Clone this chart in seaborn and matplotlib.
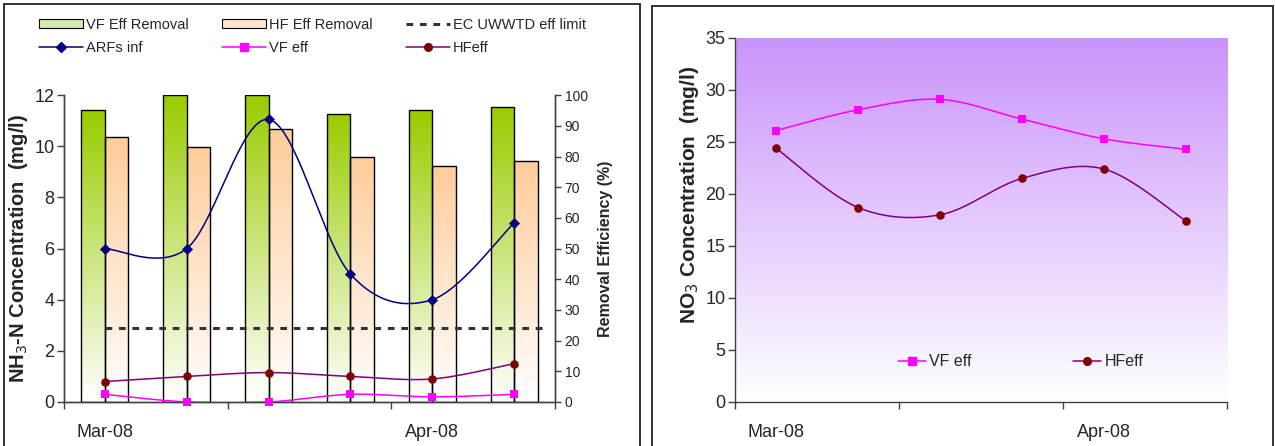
import numpy as np
import pandas as pd
import seaborn as sns
import matplotlib.pyplot as plt
from matplotlib.colors import LinearSegmentedColormap
from matplotlib.lines import Line2D
from matplotlib.patches import Patch, Rectangle
from matplotlib.ticker import FixedLocator

sns.set_theme(style="ticks")
plt.rcParams['font.family'] = ['Liberation Sans Narrow', 'Liberation Sans', 'DejaVu Sans']

# %% data (6 sampling dates, Mar-Apr 2008)
samples = ["s1", "s2", "s3", "s4", "s5", "s6"]
month_labels = ["Mar-08", "Apr-08"]
month_pos = [0, 4]

vf_removal = [95, 100, 100, 94, 95, 96]      # %
hf_removal = [86.5, 83, 89, 80, 77, 78.5]    # %
arfs_inf = [6.0, 6.0, 11.05, 5.0, 4.0, 7.0]  # NH3-N mg/l
vf_eff_nh3 = [0.3, 0.0, 0.0, 0.3, 0.2, 0.3]
hf_eff_nh3 = [0.8, 1.0, 1.15, 1.0, 0.9, 1.5]
ec_limit = 2.9

vf_eff_no3 = [26.1, 28.1, 29.1, 27.2, 25.3, 24.3]
hf_eff_no3 = [24.4, 18.7, 18.0, 21.5, 22.4, 17.4]

GREEN = "#99CC00"
ORANGE = "#FFCC99"
NAVY = "#000080"
MAGENTA = "#FF00FF"
MAROON = "#800000"
PURPLE = "#800080"
SPINE = "#404040"
LABEL_FONT = ["Liberation Sans", "DejaVu Sans"]


def smooth(y, n=40):
    """Excel-style smoothed line (Catmull-Rom bezier) through the points."""
    y = np.asarray(y, float)
    x = np.arange(len(y), dtype=float)
    P = np.c_[x, y]
    P = np.r_[P[:1], P, P[-1:]]
    t = np.linspace(0, 1, n)[:, None]
    out = []
    for i in range(1, len(P) - 2):
        p0, p3 = P[i], P[i + 1]
        p1 = p0 + (P[i + 1] - P[i - 1]) / 6
        p2 = p3 - (P[i + 2] - P[i]) / 6
        seg = (1 - t) ** 3 * p0 + 3 * (1 - t) ** 2 * t * p1 + 3 * (1 - t) * t ** 2 * p2 + t ** 3 * p3
        out.append(seg)
    c = np.vstack(out)
    return c[:, 0], c[:, 1]


def draw_series(ax, y, line_color, marker, marker_color, ms):
    xs, ys = smooth(y)
    sns.lineplot(x=xs, y=ys, ax=ax, color=line_color, lw=1.1, sort=False, legend=False, zorder=3)
    sns.scatterplot(x=np.arange(len(y)), y=y, ax=ax, marker=marker, color=marker_color,
                    s=ms, edgecolor=marker_color, linewidth=0, legend=False, zorder=4, clip_on=False)


def style_axes(ax):
    for s in ["left", "bottom", "right"]:
        ax.spines[s].set_color(SPINE)
        ax.spines[s].set_linewidth(1.0)
    ax.spines["top"].set_visible(False)


fig = plt.figure(figsize=(12.75, 4.46), dpi=100)

# panel frames
fig.patches.append(Rectangle((0.0035, -0.01), 0.4985, 1.0, transform=fig.transFigure,
                             fill=False, ec="#222222", lw=1.3))
fig.patches.append(Rectangle((0.5115, -0.01), 0.487, 0.996, transform=fig.transFigure,
                             fill=False, ec="#222222", lw=1.3))

# %% left panel: NH3-N
ax = fig.add_axes([0.0502, 0.0987, 0.3851, 0.688])
axr = ax.twinx()
axr.set_zorder(ax.get_zorder() - 1)
ax.patch.set_visible(False)

df_rem = pd.DataFrame({
    "sample": samples * 2,
    "removal": vf_removal + hf_removal,
    "bed": ["VF"] * 6 + ["HF"] * 6,
})
sns.barplot(data=df_rem, x="sample", y="removal", hue="bed", hue_order=["VF", "HF"],
            order=samples, ax=axr, width=0.575, edgecolor="black", linewidth=1.0,
            legend=False, errorbar=None, dodge=True, saturation=1)

grad = np.linspace(0, 1, 256)[:, None]
for cont, top in zip(axr.containers, [GREEN, ORANGE]):
    cmap = LinearSegmentedColormap.from_list("g", ["white", top])
    for bar in cont:
        x0, w, h = bar.get_x(), bar.get_width(), bar.get_height()
        im = axr.imshow(grad, extent=[x0, x0 + w, 0, h], origin="lower", cmap=cmap,
                        aspect="auto", zorder=1)
        im.set_clip_path(bar)
        bar.set_facecolor("none")
        bar.set_zorder(2)

axr.set_ylim(0, 100)
axr.set_xlim(-0.5, 5.5)
axr.set_yticks(range(0, 101, 10))
axr.set_ylabel("Removal Efficiency (%)", fontsize=11.5, fontweight="bold",
               family=LABEL_FONT, labelpad=7)
axr.tick_params(axis="y", labelsize=10, length=4, width=1, color=SPINE, pad=3)

ax.hlines(ec_limit, 0, 5.4, colors="#333333", linestyles=(0, (2.2, 2.2)), lw=2.2, zorder=3)
draw_series(ax, arfs_inf, NAVY, "D", NAVY, 32)
draw_series(ax, hf_eff_nh3, PURPLE, "o", MAROON, 38)
draw_series(ax, vf_eff_nh3, MAGENTA, "s", MAGENTA, 38)
ax.set_ylim(0, 12)
ax.set_xlim(-0.5, 5.5)
ax.set_yticks(range(0, 13, 2))
ax.set_ylabel("NH$_3$-N Concentration  (mg/l)", fontsize=14.5, fontweight="bold",
              family=LABEL_FONT, labelpad=3)
ax.tick_params(axis="y", labelsize=13, length=5, width=1, color=SPINE, pad=2)

for a in (ax, axr):
    style_axes(a)
    a.set_xlabel("")
ax.xaxis.set_major_locator(FixedLocator(month_pos))
ax.set_xticklabels(month_labels)
ax.xaxis.set_minor_locator(FixedLocator([-0.5, 1.5, 3.5, 5.5]))
ax.tick_params(axis="x", which="major", length=0, labelsize=13, pad=16)
ax.tick_params(axis="x", which="minor", length=5, width=1, color=SPINE)

handles = [
    Patch(facecolor="#d6eab0", edgecolor="black", lw=0.8, label="VF Eff Removal"),
    Line2D([], [], color=NAVY, lw=1.1, marker="D", ms=5, label="ARFs inf"),
    Patch(facecolor="#ffe6cc", edgecolor="black", lw=0.8, label="HF Eff Removal"),
    Line2D([], [], color=MAGENTA, lw=1.1, marker="s", ms=5.5, label="VF eff"),
    Line2D([], [], color="#333333", lw=2.2, ls=(0, (2.2, 2.2)), label="EC UWWTD eff limit"),
    Line2D([], [], color=PURPLE, lw=1.1, marker="o", mfc=MAROON, mec=MAROON, ms=5.5, label="HFeff"),
]
fig.legend(handles=handles, ncol=3, loc="upper left", bbox_to_anchor=(0.0205, 0.99),
           frameon=False, fontsize=10.5, handlelength=3.0, handleheight=0.55,
           handletextpad=0.2, columnspacing=2.3, labelspacing=0.65)

# %% right panel: NO3
ax2 = fig.add_axes([0.5765, 0.0987, 0.3859, 0.8161])
bg = LinearSegmentedColormap.from_list("bg", ["white", "#C994FB"])
ax2.imshow(grad, extent=[0, 1, 0, 1], origin="lower", cmap=bg, aspect="auto",
           transform=ax2.transAxes, zorder=0)
draw_series(ax2, vf_eff_no3, MAGENTA, "s", MAGENTA, 38)
draw_series(ax2, hf_eff_no3, PURPLE, "o", MAROON, 38)
ax2.set_xlim(-0.5, 5.5)
ax2.set_ylim(0, 35)
ax2.set_yticks(range(0, 36, 5))
style_axes(ax2)
ax2.spines["right"].set_visible(False)
ax2.set_ylabel("NO$_3$ Concentration  (mg/l)", fontsize=15, fontweight="bold",
               family=LABEL_FONT)
ax2.yaxis.set_label_coords(-0.07, 0.57)
ax2.tick_params(axis="y", labelsize=13, length=5, width=1, color=SPINE, pad=2)
ax2.xaxis.set_major_locator(FixedLocator(month_pos))
ax2.set_xticklabels(month_labels)
ax2.xaxis.set_minor_locator(FixedLocator([-0.5, 1.5, 3.5, 5.5]))
ax2.tick_params(axis="x", which="major", length=0, labelsize=13, pad=16)
ax2.tick_params(axis="x", which="minor", length=5, width=1, color=SPINE)

handles2 = [
    Line2D([], [], color=MAGENTA, lw=1.1, marker="s", ms=5.5, label="VF eff"),
    Line2D([], [], color=PURPLE, lw=1.1, marker="o", mfc=MAROON, mec=MAROON, ms=5.5, label="HFeff"),
]
ax2.legend(handles=handles2, ncol=2, loc="center left", bbox_to_anchor=(0.301, 0.11),
           frameon=False, fontsize=11.5, handlelength=1.8, handletextpad=0.2,
           columnspacing=6.3)

fig.savefig("out.png", dpi=100)
